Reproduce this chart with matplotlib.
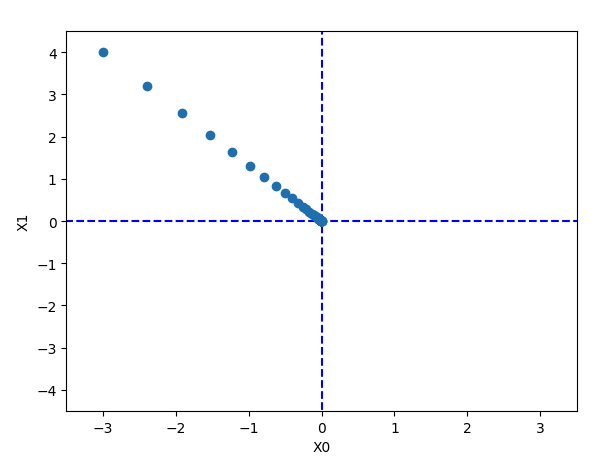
import matplotlib
matplotlib.use("Agg")
import matplotlib.pyplot as plt

x0_vals = [-3.0, -2.4, -1.92, -1.536, -1.2288, -0.983, -0.786, -0.629, -0.503, -0.403,
           -0.322, -0.258, -0.206, -0.165, -0.132, -0.106, -0.084, -0.068, -0.054, -0.043,
           -0.035, -0.028, -0.022, -0.018, -0.014, -0.011, -0.009, -0.007, -0.006, -0.005,
           -0.004, -0.003, -0.002, -0.002, -0.001, -0.001, -0.001, -0.0, -0.0, -0.0]
x1_vals = [4.0, 3.2, 2.56, 2.048, 1.638, 1.311, 1.049, 0.839, 0.671, 0.537,
           0.429, 0.344, 0.275, 0.220, 0.176, 0.141, 0.113, 0.090, 0.072, 0.058,
           0.046, 0.037, 0.030, 0.024, 0.019, 0.015, 0.012, 0.010, 0.008, 0.006,
           0.005, 0.004, 0.003, 0.003, 0.002, 0.002, 0.001, 0.001, 0.001, 0.0]

fig = plt.figure(figsize=(6, 4.6), dpi=100)
ax = fig.add_axes([0.1105, 0.1043, 0.8507, 0.826])
ax.plot([-5, 5], [0, 0], '--b')
ax.plot([0, 0], [-5, 5], '--b')
ax.plot(x0_vals, x1_vals, 'o', color='#1f6fae', zorder=3)
ax.set_xlim(-3.5, 3.5)
ax.set_ylim(-4.5, 4.5)
ax.set_xlabel("X0")
ax.set_ylabel("X1")
fig.savefig("out.png", dpi=100)
